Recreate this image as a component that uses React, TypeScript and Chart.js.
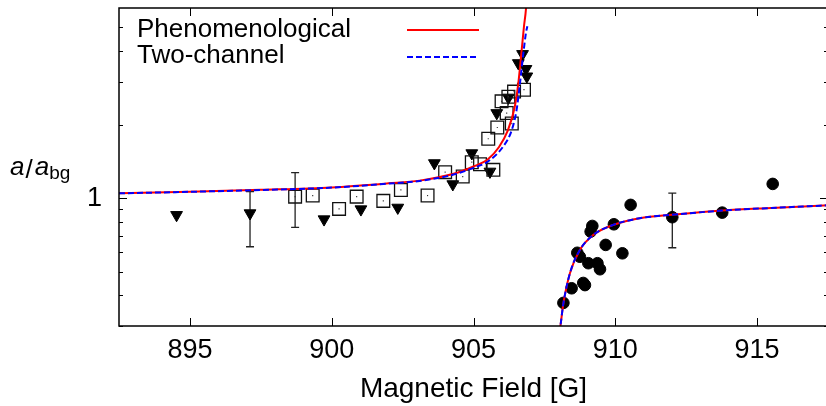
import React, { useEffect, useRef } from 'react';
import { Chart, registerables } from 'chart.js';

Chart.register(...registerables);

const FONT = '"Liberation Sans", Arial, sans-serif';

// Axis ticks
const xTicks = [895, 900, 905, 910, 915];
const yTicks = [0.3, 0.4, 0.5, 0.6, 0.7, 0.8, 0.9, 1, 2, 3, 4, 5];
const yLabelled = [1];

// Data: down triangles
const triB = [894.53, 897.12, 899.73, 901.03, 902.33, 903.62, 904.27, 904.94, 905.58, 905.82, 906.23, 906.58, 906.73, 906.85, 906.88];
const triV = [0.854, 0.868, 0.82, 0.901, 0.915, 1.391, 1.141, 1.528, 1.285, 2.23, 2.58, 3.57, 3.89, 3.38, 3.15];

// Data: open squares
const sqB = [898.71, 899.33, 900.26, 900.88, 901.82, 902.44, 903.38, 904.0, 904.62, 904.94, 905.23, 905.7, 905.52, 905.84, 905.99, 906.17, 906.35, 906.43, 906.78, 906.23];
const sqV = [1.015, 1.025, 0.904, 1.015, 0.975, 1.081, 1.025, 1.278, 1.226, 1.404, 1.378, 1.306, 1.75, 1.947, 2.49, 2.23, 2.02, 2.73, 2.78, 2.6];

// Data: filled circles
const cirB = [908.17, 908.46, 908.93, 908.87, 908.66, 908.75, 909.05, 909.37, 909.46, 909.13, 909.19, 909.66, 909.95, 910.25, 910.54, 912.01, 913.77, 915.55];
const cirV = [0.373, 0.428, 0.441, 0.45, 0.598, 0.576, 0.542, 0.542, 0.512, 0.73, 0.77, 0.644, 0.782, 0.595, 0.939, 0.836, 0.873, 1.144];

// Error bars
const errB = [897.12, 898.71, 912.01];
const errLo = [0.633, 0.76, 0.627];
const errHi = [1.064, 1.273, 1.048];

// Phenomenological curve
const redUpB = [892.5, 895, 897.5, 900, 902, 903.1, 904.3, 905, 905.5, 905.9, 906.2, 906.45, 906.58, 906.7, 906.78, 906.85, 906.9];
const redUpV = [1.048, 1.063, 1.082, 1.107, 1.15, 1.18, 1.258, 1.348, 1.44, 1.62, 1.88, 2.35, 2.95, 4.05, 5.05, 5.95, 7.5];

// Two-channel curve
const blueUpB = [892.5, 895, 897.5, 900, 902, 903.1, 904.3, 905, 905.5, 906.05, 906.35, 906.52, 906.64, 906.76, 906.85, 906.9];
const blueUpV = [1.047, 1.062, 1.08, 1.105, 1.147, 1.176, 1.25, 1.33, 1.41, 1.63, 1.9, 2.3, 2.96, 3.93, 4.75, 5.05];

// Lower branch (both curves coincide)
const lowB = [908.03, 908.07, 908.17, 908.4, 908.75, 909.22, 909.92, 910.86, 912.0, 913.77, 915.5, 917.5];
const lowV = [0.28, 0.303, 0.371, 0.493, 0.614, 0.707, 0.777, 0.828, 0.855, 0.89, 0.912, 0.935];

const legendLabels = ['Phenomenological', 'Two-channel'];
const RED = '#ff0000';
const BLUE = '#0000ff';

const pts = (xs: number[], ys: number[]) => xs.map((x, i) => ({ x, y: ys[i] }));

const framePlugin = {
  id: 'frame',
  beforeDatasetsDraw(chart: any) {
    const { ctx, scales } = chart;
    const xs = scales.x;
    const ys = scales.y;
    ctx.save();
    ctx.strokeStyle = '#222';
    ctx.lineWidth = 1.3;
    errB.forEach((b, i) => {
      const px = xs.getPixelForValue(b);
      const y1 = ys.getPixelForValue(errLo[i]);
      const y2 = ys.getPixelForValue(errHi[i]);
      ctx.beginPath();
      ctx.moveTo(px, y1);
      ctx.lineTo(px, y2);
      ctx.moveTo(px - 4, y1);
      ctx.lineTo(px + 4, y1);
      ctx.moveTo(px - 4, y2);
      ctx.lineTo(px + 4, y2);
      ctx.stroke();
    });
    ctx.restore();
  },
  afterDraw(chart: any) {
    const { ctx, chartArea: a, scales } = chart;
    const xs = scales.x;
    const ys = scales.y;
    ctx.save();
    // frame
    ctx.strokeStyle = '#000';
    ctx.lineWidth = 1.5;
    ctx.strokeRect(a.left, a.top, a.right - a.left, a.bottom - a.top);
    // inward ticks
    ctx.lineWidth = 1;
    ctx.beginPath();
    xTicks.forEach((v) => {
      const px = Math.round(xs.getPixelForValue(v)) + 0.5;
      ctx.moveTo(px, a.bottom);
      ctx.lineTo(px, a.bottom - 8);
      ctx.moveTo(px, a.top);
      ctx.lineTo(px, a.top + 8);
    });
    yTicks.forEach((v) => {
      const py = Math.round(ys.getPixelForValue(v)) + 0.5;
      const len = yLabelled.includes(v) ? 8 : 4;
      ctx.moveTo(a.left, py);
      ctx.lineTo(a.left + len, py);
      ctx.moveTo(a.right, py);
      ctx.lineTo(a.right - len, py);
    });
    ctx.stroke();

    // legend
    ctx.fillStyle = '#000';
    ctx.textAlign = 'left';
    ctx.textBaseline = 'alphabetic';
    ctx.font = `26px ${FONT}`;
    ctx.fillText(legendLabels[0], 137, 37);
    ctx.fillText(legendLabels[1], 137, 63);
    ctx.lineWidth = 2;
    ctx.strokeStyle = RED;
    ctx.beginPath();
    ctx.moveTo(407, 30);
    ctx.lineTo(479, 30);
    ctx.stroke();
    ctx.strokeStyle = BLUE;
    ctx.setLineDash([6, 3]);
    ctx.beginPath();
    ctx.moveTo(407, 57);
    ctx.lineTo(479, 57);
    ctx.stroke();
    ctx.setLineDash([]);

    // y-axis title a/a_bg
    let x = 10;
    const base = 175;
    ctx.font = `italic 26px ${FONT}`;
    ctx.fillText('a', x, base);
    x += ctx.measureText('a').width + 1;
    ctx.font = `26px ${FONT}`;
    ctx.fillText('/', x, base + 3);
    x += ctx.measureText('/').width + 2;
    ctx.font = `italic 26px ${FONT}`;
    ctx.fillText('a', x, base);
    x += ctx.measureText('a').width;
    ctx.font = `19px ${FONT}`;
    ctx.fillText('bg', x, base + 4);
    ctx.restore();
  },
};

export default function App() {
  const canvasRef = useRef<HTMLCanvasElement | null>(null);

  useEffect(() => {
    if (!canvasRef.current) return;
    const chart = new Chart(canvasRef.current, {
      type: 'scatter',
      data: {
        datasets: [
          {
            label: 'Two-channel',
            data: pts(blueUpB, blueUpV),
            showLine: true,
            borderColor: BLUE,
            borderWidth: 2,
            borderDash: [6, 3],
            pointRadius: 0,
            cubicInterpolationMode: 'monotone',
            order: 0,
          },
          {
            label: 'Two-channel lower',
            data: pts(lowB, lowV),
            showLine: true,
            borderColor: BLUE,
            borderWidth: 2,
            borderDash: [6, 3],
            pointRadius: 0,
            cubicInterpolationMode: 'monotone',
            order: 0,
          },
          {
            label: 'Phenomenological',
            data: pts(redUpB, redUpV),
            showLine: true,
            borderColor: RED,
            borderWidth: 2,
            pointRadius: 0,
            cubicInterpolationMode: 'monotone',
            order: 1,
          },
          {
            label: 'Phenomenological lower',
            data: pts(lowB, lowV),
            showLine: true,
            borderColor: RED,
            borderWidth: 2,
            pointRadius: 0,
            cubicInterpolationMode: 'monotone',
            order: 1,
          },
          {
            label: 'square dots',
            data: pts(sqB, sqV),
            pointStyle: 'rect',
            pointRadius: 0.8,
            backgroundColor: '#333',
            borderColor: '#333',
            borderWidth: 0,
            order: 2,
          },
          {
            label: 'squares',
            data: pts(sqB, sqV),
            pointStyle: 'rect',
            pointRadius: 9,
            backgroundColor: 'rgba(0,0,0,0)',
            borderColor: '#111',
            borderWidth: 1.3,
            order: 2,
          },
          {
            label: 'triangles',
            data: pts(triB, triV),
            pointStyle: 'triangle',
            rotation: 180,
            pointRadius: 6.8,
            backgroundColor: '#000',
            borderColor: '#000',
            borderWidth: 1,
            order: 2,
          },
          {
            label: 'circles',
            data: pts(cirB, cirV),
            pointStyle: 'circle',
            pointRadius: 5.8,
            backgroundColor: '#000',
            borderColor: '#000',
            borderWidth: 1,
            order: 2,
          },
        ],
      },
      options: {
        animation: false,
        responsive: false,
        maintainAspectRatio: false,
        devicePixelRatio: 1,
        layout: { autoPadding: false, padding: { top: 8, right: 4, left: 0, bottom: 0 } },
        plugins: {
          legend: { display: false },
          tooltip: { enabled: false },
        },
        scales: {
          x: {
            type: 'linear',
            min: 892.5,
            max: 917.5,
            grid: { display: false, drawTicks: false },
            border: { display: false },
            ticks: {
              color: '#000',
              font: { family: FONT, size: 27 },
              padding: 8,
              maxRotation: 0,
              autoSkip: false,
            },
            title: {
              display: true,
              text: 'Magnetic Field [G]',
              color: '#000',
              font: { family: FONT, size: 28 },
              padding: { top: 0, bottom: 0 },
            },
            afterBuildTicks: (s: any) => {
              s.ticks = xTicks.map((v) => ({ value: v }));
            },
            afterFit: (s: any) => {
              s.height = 80;
              s.paddingLeft = 0;
              s.paddingRight = 0;
            },
          },
          y: {
            type: 'logarithmic',
            min: 0.3,
            max: 6,
            grid: { display: false, drawTicks: false },
            border: { display: false },
            ticks: {
              color: '#000',
              font: { family: FONT, size: 27 },
              padding: 17,
              autoSkip: false,
              callback: (v: any) => (yLabelled.includes(Number(v)) ? String(v) : ''),
            },
            afterBuildTicks: (s: any) => {
              s.ticks = yTicks.map((v) => ({ value: v }));
            },
            afterFit: (s: any) => {
              s.width = 119;
              s.paddingTop = 0;
              s.paddingBottom = 0;
            },
          },
        },
      } as any,
      plugins: [framePlugin],
    });
    return () => chart.destroy();
  }, []);

  return (
    <div style={{ position: 'fixed', left: 0, top: 0, width: 826, height: 406, overflow: 'hidden', background: '#fff' }}>
      <canvas ref={canvasRef} width={832} height={406} style={{ display: 'block', width: 832, height: 406 }} />
    </div>
  );
}
